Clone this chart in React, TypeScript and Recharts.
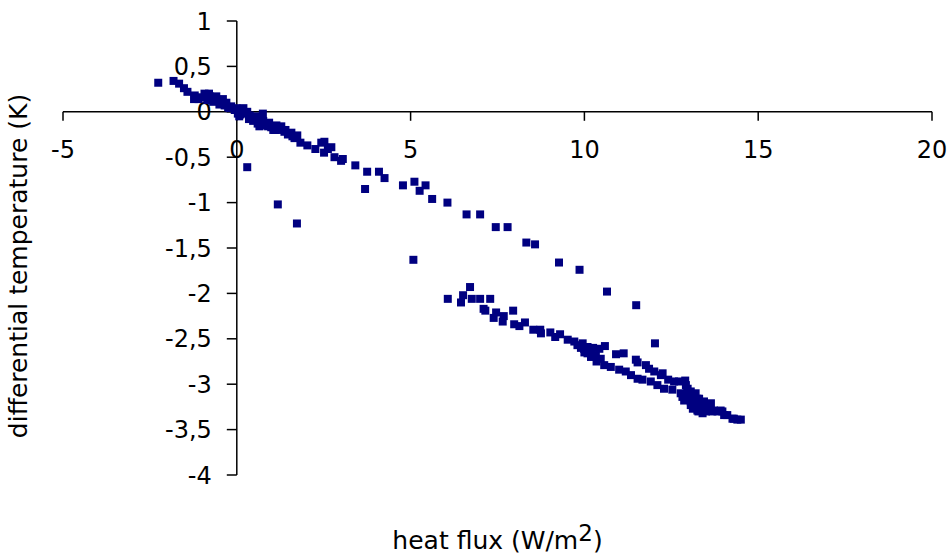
import { ScatterChart, Scatter, XAxis, YAxis, ZAxis, ReferenceLine, ReferenceDot } from 'recharts';

// heat flux (W/m2) / differential temperature (K)
const clusterFlux = [-2.26, -1.82, -1.66, -1.52, -1.42, -1.21, -1.23, -0.93, -1.1, -0.78, -0.59, -0.68, -0.45, -0.35, -0.21, -0.06, 0.03, 0.13, 0.22, 0.37, 0.51, 0.75, 0.66, 0.85, 0.99, 1.14, 1.23, 1.37, 1.47, 1.66, 1.83, 2.03, 2.26, 2.43, 2.52, 2.51, 2.62, 2.72, 2.81, 3.0, 3.05, 3.41, 3.75, 4.09, 4.25, 4.78, 5.11, 5.26, 5.43, 5.62, 6.06, -1.02, -0.85, -0.65, -0.5, -0.3, -0.16, -0.01, 0.07, 0.19, 0.3, 0.42, 0.56, 0.47, 0.76, 0.93, 1.05, 1.28, 1.57, 1.74, 0.65, -0.8, -0.4, -0.25, 0.1, 0.35, 0.6, 0.9, 1.1, 1.4, 1.6];
const clusterTemp = [0.32, 0.34, 0.31, 0.26, 0.22, 0.18, 0.14, 0.2, 0.14, 0.17, 0.17, 0.11, 0.11, 0.07, 0.04, 0.02, -0.02, 0.02, -0.02, -0.04, -0.07, -0.02, -0.11, -0.15, -0.17, -0.15, -0.2, -0.22, -0.25, -0.29, -0.34, -0.37, -0.41, -0.34, -0.33, -0.45, -0.41, -0.39, -0.5, -0.54, -0.52, -0.59, -0.66, -0.66, -0.73, -0.81, -0.77, -0.87, -0.81, -0.96, -1.0, 0.16, 0.13, 0.14, 0.08, 0.1, 0.06, 0.04, -0.05, 0.04, 0.0, -0.07, -0.05, -0.1, -0.1, -0.12, -0.2, -0.16, -0.23, -0.26, -0.16, 0.2, 0.14, 0.05, -0.03, -0.08, -0.13, -0.16, -0.2, -0.2, -0.27];

const strayFlux = [0.3, 1.18, 1.73, 3.69, 5.08];
const strayTemp = [-0.61, -1.02, -1.23, -0.85, -1.63];

const upperFlux = [6.61, 7.0, 7.45, 7.79, 8.33, 8.58, 9.27, 9.86, 10.65, 11.49, 12.03];
const upperTemp = [-1.13, -1.13, -1.27, -1.27, -1.44, -1.46, -1.66, -1.74, -1.98, -2.13, -2.55];

const lowerFlux = [6.07, 6.45, 6.51, 6.71, 6.76, 7.0, 7.29, 7.1, 7.15, 7.39, 7.46, 7.65, 7.68, 7.95, 7.98, 8.13, 8.29, 8.53, 8.73, 8.75, 9.02, 9.16, 9.3, 9.52, 9.71, 9.8, 9.95, 9.99, 10.09, 10.09, 10.19, 10.19, 10.33, 10.43, 10.59, 10.47, 10.57, 10.76, 10.91, 11.13, 11.0, 11.19, 11.34, 11.48, 11.53, 11.53, 11.67, 11.77, 11.86, 12.01, 11.91, 12.1, 12.2, 12.25, 12.29, 12.41, 12.53, 12.58, 12.72, 12.9, 12.77, 12.97, 12.87, 13.06, 13.06, 13.2, 13.16, 13.3, 13.35, 13.44, 13.4, 13.59, 13.73, 13.83, 13.97, 14.11, 14.26, 14.4, 14.5, 12.82, 12.92, 13.25, 13.25, 13.49, 13.64, 13.68, 13.92, 14.02, 14.3, 13.06, 13.1, 13.15, 13.22, 13.3, 13.38, 13.45, 13.5, 13.55, 13.0, 12.95, 13.12, 13.28, 10.0, 10.25, 10.35, 9.9];
const lowerTemp = [-2.06, -2.1, -2.02, -1.93, -2.06, -2.06, -2.06, -2.17, -2.19, -2.27, -2.21, -2.31, -2.25, -2.19, -2.34, -2.36, -2.32, -2.4, -2.4, -2.44, -2.43, -2.48, -2.45, -2.51, -2.53, -2.57, -2.55, -2.61, -2.59, -2.66, -2.64, -2.7, -2.68, -2.61, -2.58, -2.72, -2.79, -2.81, -2.67, -2.66, -2.84, -2.86, -2.9, -2.73, -2.76, -2.94, -2.95, -2.79, -2.83, -2.86, -2.97, -3.01, -2.9, -2.88, -3.05, -2.95, -3.06, -2.97, -2.97, -2.96, -3.1, -3.05, -3.18, -3.08, -3.19, -3.1, -3.23, -3.16, -3.29, -3.19, -3.32, -3.25, -3.29, -3.3, -3.3, -3.34, -3.38, -3.39, -3.39, -3.14, -3.01, -3.16, -3.29, -3.27, -3.21, -3.3, -3.29, -3.34, -3.38, -3.23, -3.13, -3.17, -3.2, -3.24, -3.22, -3.25, -3.3, -3.22, -3.12, -3.1, -3.27, -3.3, -2.65, -2.6, -2.75, -2.6];

const xTicks = [-5, 0, 5, 10, 15, 20];
const yTicks = [1, 0.5, 0, -0.5, -1, -1.5, -2, -2.5, -3, -3.5, -4];

const FONT = '"DejaVu Sans", sans-serif';
const NAVY = '#000080';

const zip = (xs: number[], ys: number[]) => xs.map((x, i) => ({ x, y: ys[i] }));
const points = [
  ...zip(clusterFlux, clusterTemp),
  ...zip(strayFlux, strayTemp),
  ...zip(upperFlux, upperTemp),
  ...zip(lowerFlux, lowerTemp),
];

// comma as decimal separator, like the original
const fmt = (v: number) => String(v).replace('.', ',');

const XTitle = ({ viewBox }: any) => {
  const { x, y, width, height } = viewBox;
  return (
    <text x={x + width / 2} y={y + height - 8} textAnchor="middle" fontFamily={FONT} fontSize={25} fill="#000">
      heat flux (W/m<tspan dy={-8} fontSize={23}>2</tspan>
      <tspan dy={8}>)</tspan>
    </text>
  );
};

const YTitle = ({ viewBox }: any) => {
  const cx = viewBox.x + 27;
  const cy = viewBox.y + viewBox.height / 2 + 18;
  return (
    <text x={cx} y={cy} transform={`rotate(-90 ${cx} ${cy})`} textAnchor="middle" fontFamily={FONT} fontSize={25} fill="#000">
      differential temperature (K)
    </text>
  );
};

export default function App() {
  return (
    <div style={{ position: 'absolute', left: 0, top: 0, width: 950, height: 557, background: '#fff' }}>
      <ScatterChart width={950} height={557} margin={{ top: 21, right: 18, bottom: 0, left: 0 }}>
        <XAxis
          type="number"
          dataKey="x"
          domain={[-5, 20]}
          ticks={xTicks}
          tick={false}
          tickLine={false}
          axisLine={false}
          height={82}
          label={{ content: XTitle }}
        />
        <YAxis
          type="number"
          dataKey="y"
          domain={[-4, 1]}
          ticks={yTicks}
          tick={false}
          tickLine={false}
          axisLine={false}
          width={63}
          label={{ content: YTitle }}
        />
        <ZAxis range={[45, 45]} />

        {/* axes cross at the origin */}
        <ReferenceLine x={0} stroke="#000" strokeWidth={1.5} />
        <ReferenceLine y={0} stroke="#000" strokeWidth={1.5} />

        {xTicks.map((t) => (
          <ReferenceDot
            key={'x' + t}
            x={t}
            y={0}
            r={1}
            ifOverflow="visible"
            shape={(p: any) => (
              <g>
                <line x1={p.cx} y1={p.cy} x2={p.cx} y2={p.cy + 9} stroke="#000" strokeWidth={1.5} />
                <text x={p.cx} y={p.cy + 38} dy="0.36em" textAnchor="middle" fontFamily={FONT} fontSize={24} fill="#000">
                  {fmt(t)}
                </text>
              </g>
            )}
          />
        ))}
        {yTicks.map((t) => (
          <ReferenceDot
            key={'y' + t}
            x={0}
            y={t}
            r={1}
            ifOverflow="visible"
            shape={(p: any) => (
              <g>
                <line x1={p.cx - 10} y1={p.cy} x2={p.cx} y2={p.cy} stroke="#000" strokeWidth={1.5} />
                <text x={p.cx - 25} y={p.cy} dy="0.36em" textAnchor="end" fontFamily={FONT} fontSize={24} fill="#000">
                  {fmt(t)}
                </text>
              </g>
            )}
          />
        ))}

        <Scatter data={points} fill={NAVY} shape="square" isAnimationActive={false} />
      </ScatterChart>
    </div>
  );
}
